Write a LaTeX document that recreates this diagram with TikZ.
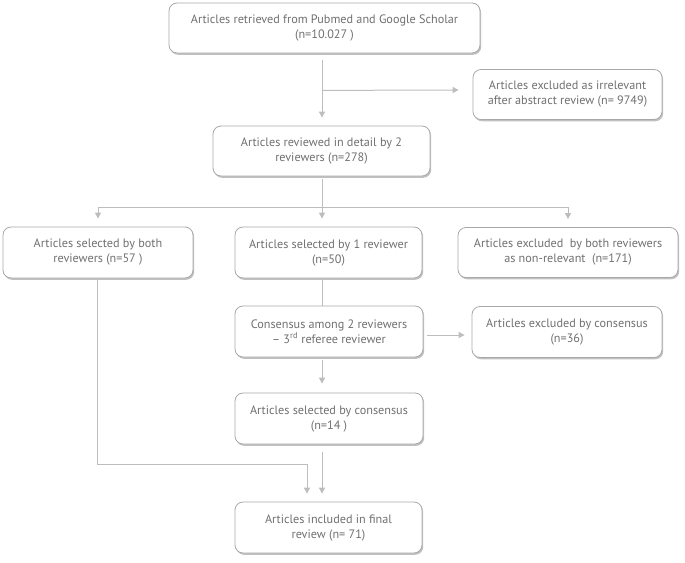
\documentclass[tikz,border=0pt]{standalone}
\usepackage{fontspec}
\setmainfont{PT Sans}
\usetikzlibrary{arrows.meta,shadows,calc}
\definecolor{txt}{HTML}{707070}
\definecolor{bord}{HTML}{A8A8A8}
\definecolor{lin}{HTML}{BDBDBD}
\tikzset{
  box/.style={draw=bord, line width=0.8pt, fill=white, rounded corners=8pt, align=center,
    text=txt, font=\fontsize{12.2}{15}\selectfont, inner sep=0pt,
    drop shadow={shadow xshift=1.2pt, shadow yshift=-1.8pt, fill=black!45, opacity=0.55}},
  conn/.style={draw=lin, line width=1pt},
  arr/.style={conn, -{Triangle[width=6pt,length=6pt]}},
}
\begin{document}
\begin{tikzpicture}[x=1pt,y=-1pt]
\useasboundingbox (0,0) rectangle (685,562);
\node[box, minimum width=311, minimum height=50] (top) at (324.5,28) {Articles retrieved from Pubmed and Google Scholar\\(n=10.027 )};
\node[box, minimum width=189, minimum height=50] (irr) at (567.5,94.5) {Articles excluded as irrelevant\\after abstract review (n= 9749)};
\node[box, minimum width=217, minimum height=50] (rev) at (321.5,151) {Articles reviewed in detail by 2\\reviewers (n=278)};
\node[box, minimum width=190, minimum height=51] (both) at (98,252.5) {Articles selected by both\\reviewers (n=57 )};
\node[box, minimum width=187, minimum height=51] (one) at (328.5,252.5) {Articles selected by 1 reviewer\\(n=50)};
\node[box, minimum width=220, minimum height=50] (exb) at (568,252.5) {Articles excluded\ \ by both reviewers\\as non-relevant\ \ (n=171)};
\node[box, minimum width=188, minimum height=51] (cons) at (329,331.5) {Consensus among 2 reviewers\\– 3\textsuperscript{rd} referee reviewer};
\node[box, minimum width=190, minimum height=51] (exc) at (567,332) {Articles excluded by consensus\\(n=36)};
\node[box, minimum width=188, minimum height=51] (selc) at (329,418.5) {Articles selected by consensus\\(n=14 )};
\node[box, minimum width=187, minimum height=51] (fin) at (328.5,527.5) {Articles included in final\\review (n= 71)};
% connectors
\draw[arr] ($(top.south)+(-2.5,7)$) -- ($(rev.north)+(0.5,-8)$);
\coordinate (b1) at ($(top.south)+(-2.5,37)$);
\draw[arr] (b1) -- ($(irr.west)+(-14,-4.5)$);
\coordinate (h) at ($(rev.south)+(0.5,31)$);
\coordinate (hl) at (h -| both.center);
\coordinate (hr) at (h -| exb.center);
\draw[conn] ($(rev.south)+(0.5,3)$) -- (h);
\draw[conn] (hl) -- (hr);
\draw[arr] (hl) -- ($(both.north)+(0,-8)$);
\draw[arr] (h) -- ($(one.north)+(-6.5,-8)$);
\draw[arr] (hr) -- ($(exb.north)+(0,-8)$);
\draw[conn] ($(one.south)+(-6.5,2)$) -- ($(cons.north)+(-7,0)$);
\draw[arr] ($(cons.east)+(4,3.5)$) -- ($(exc.west)+(-7,3)$);
\draw[arr] ($(cons.south)+(-7,3)$) -- ($(selc.north)+(-7,-9)$);
\draw[arr] ($(selc.south)+(-7,8)$) -- ($(fin.north)+(-6.5,-8)$);
\draw[arr] ($(both.south)+(-1,2)$) |- ($(fin.north)+(-21.5,-37)$) -- ($(fin.north)+(-21.5,-8)$);
\end{tikzpicture}
\end{document}
